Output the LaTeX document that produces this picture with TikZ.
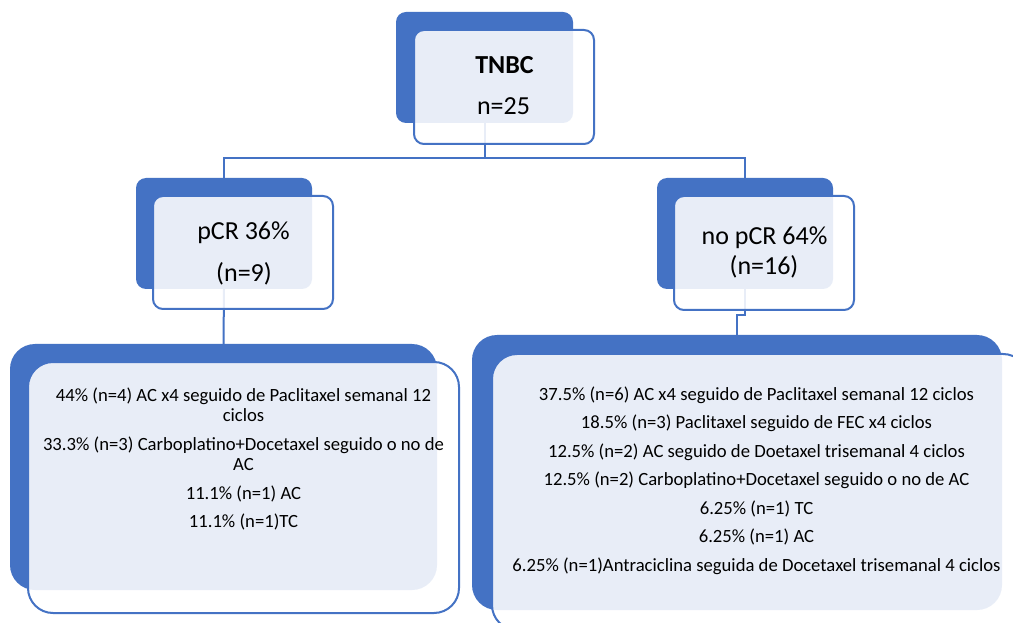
\documentclass[tikz,border=0pt]{standalone}
\usepackage{fontspec}
\setmainfont{Carlito}
\definecolor{accent}{HTML}{4472C4}
\begin{document}
\begin{tikzpicture}[x=0.75pt,y=-0.75pt,
  link/.style={draw=accent, line width=1.5pt},
  backbox/.style={fill=accent, draw=none, rounded corners=#1, inner sep=0pt, outer sep=0pt},
  frontbox/.style={draw=accent, line width=1.5pt, fill=white, fill opacity=0.88,
    draw opacity=1, rounded corners=#1, inner sep=0pt, outer sep=0pt},
  headtext/.style={font=\fontsize{19.5}{23}\selectfont, anchor=base, inner sep=0pt},
  itemtext/.style={font=\fontsize{14}{17}\selectfont, anchor=base, inner sep=0pt}]

\useasboundingbox (0,0) rectangle (1013,623);
\clip (0,0) rectangle (1013,623);
\fill[white] (0,0) rectangle (1013,623);

% coloured back plates
\node[backbox=7.5pt, minimum width=132.75pt, minimum height=83.25pt] (rootback) at (484.5,67.5) {};
\node[backbox=7.5pt, minimum width=132pt, minimum height=83.25pt] (pcrback) at (224,233.5) {};
\node[backbox=7.5pt, minimum width=132pt, minimum height=83.25pt] (nopback) at (745,233.5) {};
\node[backbox=18.75pt, minimum width=320.25pt, minimum height=184.5pt] (lback) at (223.5,467) {};
\node[backbox=18.75pt, minimum width=397.5pt, minimum height=206.25pt] (rback) at (737,472.5) {};

% connectors, under the front cards
\draw[link] (rootback.south) -- ++(0,35) -| (pcrback.north);
\draw[link] (rootback.south) -- ++(0,35) -| (nopback.north);
\draw[link] (pcrback.south) -- (lback.north);
\draw[link] (nopback.south) -- ++(0,26) -| (rback.north);

% translucent front cards
\node[frontbox=7.5pt, minimum width=135pt, minimum height=85.5pt] (rootfront) at (504,87) {};
\node[frontbox=7.5pt, minimum width=135pt, minimum height=84.75pt] (pcrfront) at (243,252.5) {};
\node[frontbox=7.5pt, minimum width=135pt, minimum height=85.5pt] (nopfront) at (764,253) {};
\node[frontbox=18.75pt, minimum width=323.25pt, minimum height=188.25pt] (lfront) at (243.5,487.5) {};
\node[frontbox=18.75pt, minimum width=402pt, minimum height=207pt] (rfront) at (760,492) {};

% headings
\node[headtext, font=\fontsize{19.5}{23}\selectfont\bfseries] (roottitle) at (504.5,74) {TNBC};
\node[headtext] (rootn) at (503.5,115) {n=25};
\node[headtext] (pcrtitle) at (243.5,240) {pCR 36\%};
\node[headtext] (pcrn) at (244,281.5) {(n=9)};
\node[headtext] (noptitle) at (764.5,245) {no pCR 64\%};
\node[headtext] (nopn) at (764,274.5) {(n=16)};

% treatment lists
\foreach \yy/\txt [count=\i] in {
  401.5/{44\% (n=4) AC x4 seguido de Paclitaxel semanal 12},
  421.5/{ciclos},
  450.5/{33.3\% (n=3) Carboplatino+Docetaxel seguido o no de},
  470.5/{AC},
  499.5/{11.1\% (n=1) AC},
  527.5/{11.1\% (n=1)TC}}
  \node[itemtext] (litem\i) at (243.5,\yy) {\txt};

\foreach \yy/\txt [count=\i] in {
  400/{37.5\% (n=6) AC x4 seguido de Paclitaxel semanal 12 ciclos},
  428.5/{18.5\% (n=3) Paclitaxel seguido de FEC x4 ciclos},
  457/{12.5\% (n=2) AC seguido de Doetaxel trisemanal 4 ciclos},
  485.5/{12.5\% (n=2) Carboplatino+Docetaxel seguido o no de AC},
  514/{6.25\% (n=1) TC},
  542.5/{6.25\% (n=1) AC},
  571/{6.25\% (n=1)Antraciclina seguida de Docetaxel trisemanal 4 ciclos}}
  \node[itemtext] (ritem\i) at (756.5,\yy) {\txt};
\end{tikzpicture}
\end{document}
